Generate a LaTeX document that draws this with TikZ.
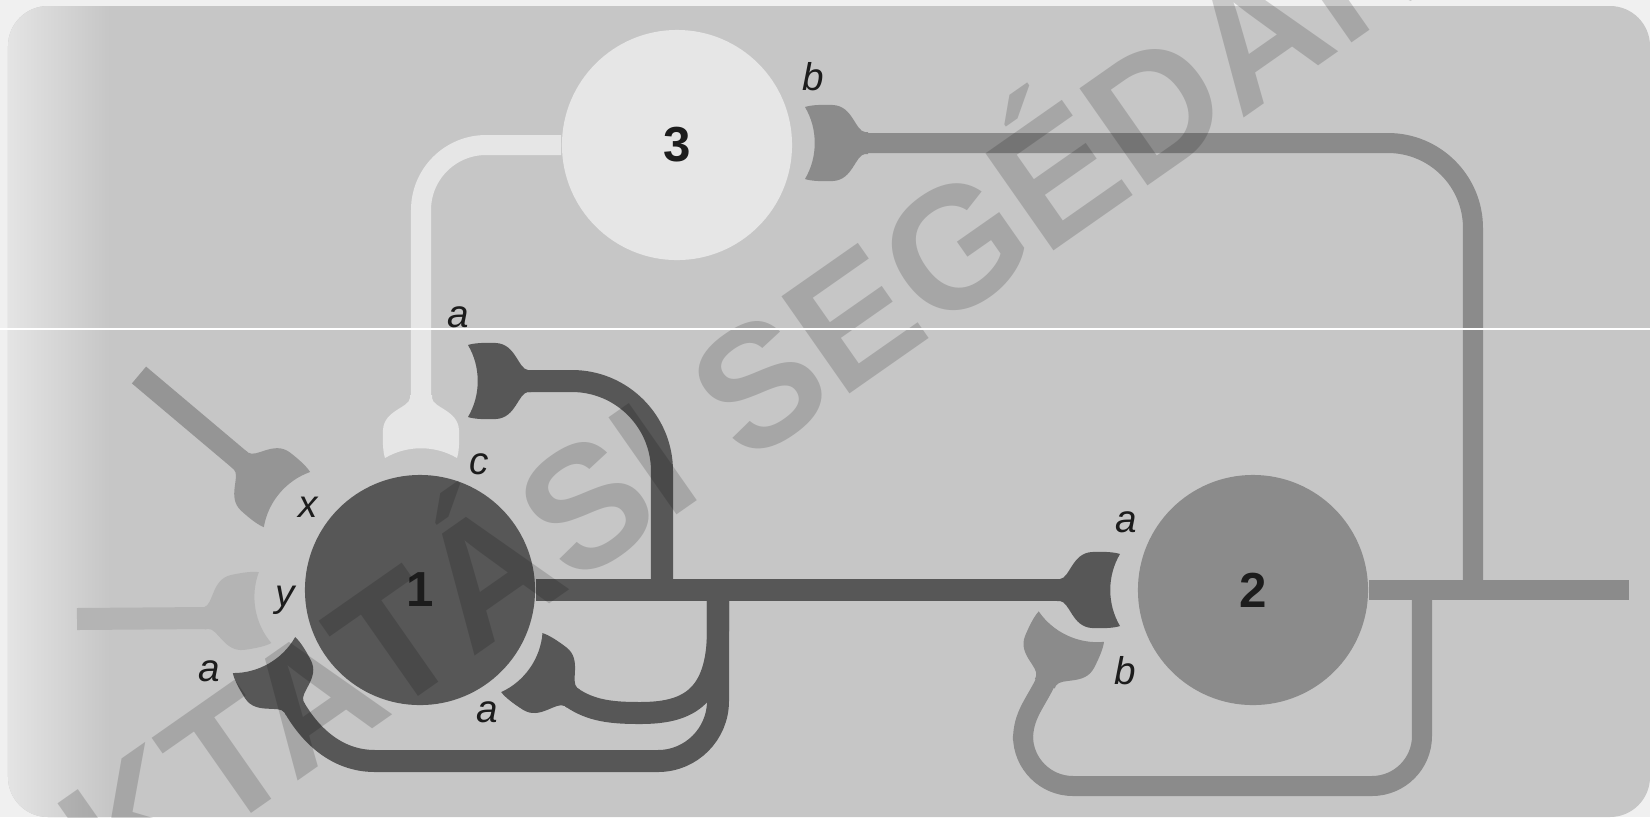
\documentclass[tikz,border=0pt]{standalone}
\usepackage{fontspec}
\setmainfont{Liberation Sans}
\usepackage{tikz}
\usetikzlibrary{positioning}
\definecolor{sheet}{HTML}{F0F0F0}
\definecolor{paper}{HTML}{C6C6C6}
\definecolor{haze}{HTML}{E4E4E4}
\definecolor{cellA}{HTML}{575757}
\definecolor{cellB}{HTML}{8B8B8B}
\definecolor{cellC}{HTML}{E6E6E6}
\definecolor{inX}{HTML}{959595}
\definecolor{inY}{HTML}{B4B4B4}
\definecolor{ink}{HTML}{1C1C1C}
\tikzset{
  neuron/.style={circle, minimum size=2.3cm, inner sep=0pt, text=ink,
                 font=\bfseries\fontsize{14}{16}\selectfont},
  axon/.style={line width=0.22cm},
  axonthin/.style={line width=0.2cm},
  syn/.style={font=\itshape\fontsize{11}{13}\selectfont, text=ink, inner sep=1pt},
  stamp/.style={font=\bfseries\fontsize{49}{56}\selectfont, text=black, text opacity=0.16, inner sep=0pt},
  % synaptic knob, neck at the origin, cupped face towards +x
  bouton/.pic={\fill[#1] (-3,11) -- (0,11) .. controls (10,12) and (12,37) .. (32,38)
      .. controls (44,38.5) and (54,38) .. (60,36) .. controls (47,14) and (47,-14) .. (60,-36)
      .. controls (54,-38) and (44,-38.5) .. (32,-38) .. controls (12,-37) and (10,-12) .. (0,-11)
      -- (-3,-11) -- cycle;},
}
\begin{document}
\begin{tikzpicture}[x=0.01cm, y=-0.01cm]
  \useasboundingbox (0,0) rectangle (1650,817);
  % sheet and plate
  \fill[sheet] (0,0) rectangle (1650,817);
  \fill[paper, rounded corners=0.4cm] (8,6) rectangle (1650,817);
  \begin{scope}
    \clip[rounded corners=0.4cm] (8,6) rectangle (1650,817);
    \shade[left color=haze, right color=paper] (8,6) rectangle (110,817);
  \end{scope}

  % cell bodies
  \node[neuron, fill=cellA] (n1) at (420,590) {1};
  \node[neuron, fill=cellB] (n2) at (1253,590) {2};
  \node[neuron, fill=cellC] (n3) at (677,145) {3};

  % knob necks and branch points
  \coordinate (t2a) at (1060,590);
  \coordinate (t3b) at (865,143);
  \coordinate (t1a) at (528,381);
  \coordinate (tc) at (421,398);
  \coordinate (tx) at (241,461);
  \coordinate (ty) at (206,618);
  \coordinate (t1l) at (294,707);
  \coordinate (t1r) at (571,697);
  \coordinate (t2b) at (1046,681);
  \coordinate (xin) at (139,375);
  \coordinate (yin) at (77,619);
  \coordinate (n1up) at (662,590);
  \coordinate (n1dn) at (718,590);
  \coordinate (k1) at (375,761);
  \coordinate (n2up) at (1473,590);
  \coordinate (n2dn) at (1422,590);
  \coordinate (k2) at (1023,740);
  \coordinate (n2end) at (1629,590);

  % axons of cell 1
  \draw[axon, cellA] (n1.east) -- (t2a);
  \draw[axon, cellA, rounded corners=0.9cm] (n1up) |- (t1a);
  \draw[axon, cellA, rounded corners=0.6cm] (n1dn) |- (k1);
  \draw[axon, cellA] (k1) .. controls (335,761) and (309,733) .. (t1l);
  \draw[axon, cellA] (n1dn) -- (718,630) .. controls (718,700) and (685,713) .. (640,713)
      .. controls (612,713) and (591,711) .. (t1r);
  % axons of cell 2
  \draw[axonthin, cellB] (n2.east) -- (n2end);
  \draw[axonthin, cellB, rounded corners=0.85cm] (n2up) |- (t3b);
  \draw[axonthin, cellB, rounded corners=0.5cm] (n2dn) |- (1023,786) -- (k2);
  \draw[axonthin, cellB] (k2) .. controls (1023,715) and (1035,704) .. (t2b);
  % axon of cell 3
  \draw[axonthin, cellC, rounded corners=0.65cm] (n3.west) -| (tc);
  % inputs
  \draw[axon, inX] (xin) -- (tx);
  \draw[axon, inY] (yin) -- (ty);

  % knobs
  \pic[rotate=0] at (t2a) {bouton=cellA};
  \pic[rotate=180] at (t1a) {bouton=cellA};
  \pic[rotate=120] at (t1l) {bouton=cellA};
  \pic[rotate=145] at (t1r) {bouton=cellA};
  \pic[rotate=180] at (t3b) {bouton=cellB};
  \pic[rotate=65] at (t2b) {bouton=cellB};
  \pic[rotate=-90] at (tc) {bouton=cellC};
  \pic[rotate=-40] at (tx) {bouton=inX};
  \pic[rotate=10] at (ty) {bouton=inY};

  % synapse letters
  \node[syn] (lb3) at (813,77) {b};
  \node[syn] (la3) at (458,317) {a};
  \node[syn] (lc) at (479,464) {c};
  \node[syn] (lx) at (308,507) {x};
  \node[syn] (ly) at (285,600) {y};
  \node[syn] (la1l) at (209,671) {a};
  \node[syn] (la1r) at (487,712) {a};
  \node[syn] (la2) at (1126,522) {a};
  \node[syn] (lb2) at (1125,671) {b};

  % stamp across the plate
  \node[stamp, rotate=35, anchor=base west] (stamp) at (6,985) {OKTATÁSI SEGÉDANYAG};
  \draw[white, line width=0.012cm] (0,329) -- (1650,329);
\end{tikzpicture}
\end{document}
